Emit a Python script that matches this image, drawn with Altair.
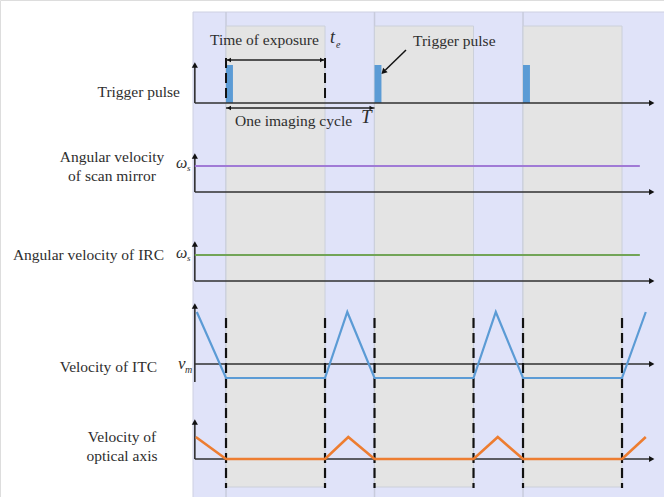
import altair as alt
import pandas as pd

# ---------------- data ----------------
cycle_starts = [0, 3, 6]          # start of each imaging cycle (time units)
t_exposure = 2.0                  # exposure time t_e
T_cycle = 3.0                     # imaging cycle T
pulse_width = 0.14                # trigger pulse duration
dash_times = [0, 2, 3, 5, 6, 8]   # exposure start / end marks

itc_t = [-0.59, 0, 2, 2.45, 3, 5, 5.45, 6, 8, 8.48]
itc_v = [1, 0, 0, 1, 0, 0, 1, 0, 0, 1]
itc_vm = 0.21                     # v_m reference level

opt_t = [-0.61, 0, 2, 2.47, 3, 5, 5.49, 6, 8, 8.48]
opt_v = [1, 0, 0, 1, 0, 0, 1, 0, 0, 1]

scan_level = 1.0                  # omega_s of scan mirror
irc_level = 1.0                   # omega_s of IRC
const_end = 8.36

axis_start, axis_end = -0.63, 8.6

# ---------------- layout (pixels on the y layout scale) ----------------
X = alt.Scale(domain=[-4.566, 8.848], nice=False, zero=False)
Y = alt.Scale(domain=[0, 497], reverse=True, nice=False, zero=False)
FONT = "Liberation Serif"


def xe(f="t"):
    return alt.X(f"{f}:Q", scale=X, axis=None)


def ye(f="y"):
    return alt.Y(f"{f}:Q", scale=Y, axis=None)


layers = []

# background lavender
bg = pd.DataFrame({"t": [-0.667], "t2": [8.95], "y": [12], "y2": [500]})
layers.append(alt.Chart(bg).mark_rect(fill="#e0e3f9", stroke="#cdd0e2", strokeWidth=1).encode(
    x=xe(), x2="t2:Q", y=ye(), y2="y2:Q"))

# column lines
cl = pd.DataFrame({"t": cycle_starts, "y": [12] * 3, "y2": [497] * 3})
layers.append(alt.Chart(cl).mark_rule(color="#c8cbdc", strokeWidth=1.5).encode(
    x=xe(), y=ye(), y2="y2:Q"))

# exposure boxes
gb = pd.DataFrame({"t": cycle_starts, "t2": [c + t_exposure for c in cycle_starts],
                   "y": [26] * 3, "y2": [487] * 3})
layers.append(alt.Chart(gb).mark_rect(fill="#e4e4e4", stroke="#ccd0da", strokeWidth=1).encode(
    x=xe(), x2="t2:Q", y=ye(), y2="y2:Q"))

# trigger pulses
tp = pd.DataFrame({"t": cycle_starts, "t2": [c + pulse_width for c in cycle_starts],
                   "y": [65] * 3, "y2": [103] * 3})
layers.append(alt.Chart(tp).mark_rect(fill="#5b9bd5").encode(
    x=xe(), x2="t2:Q", y=ye(), y2="y2:Q"))

# panel axes: (top of y axis, bottom of y axis, x-axis level)
panels = [(62, 103, 103), (153, 192, 192), (241, 281, 281), (303, 382, 364), (419, 459, 459)]
va = pd.DataFrame({"t": [axis_start] * 5, "y": [p[0] + 3 for p in panels], "y2": [p[1] for p in panels]})
layers.append(alt.Chart(va).mark_rule(color="#303030", strokeWidth=1.6).encode(
    x=xe(), y=ye(), y2="y2:Q"))
ha = pd.DataFrame({"t": [axis_start] * 5, "t2": [axis_end] * 5, "y": [p[2] for p in panels]})
layers.append(alt.Chart(ha).mark_rule(color="#303030", strokeWidth=1.6).encode(
    x=xe(), x2="t2:Q", y=ye()))
up = pd.DataFrame({"t": [axis_start] * 5, "y": [p[0] + 3 for p in panels]})
layers.append(alt.Chart(up).mark_point(shape="triangle-up", filled=True, size=38, color="#111", opacity=1).encode(
    x=xe(), y=ye()))
rt = pd.DataFrame({"t": [axis_end] * 5, "y": [p[2] for p in panels]})
layers.append(alt.Chart(rt).mark_point(shape="triangle-right", filled=True, size=38, color="#111", opacity=1).encode(
    x=xe(), y=ye()))

# constant angular velocities
cst = pd.DataFrame({"t": [axis_start, axis_start], "t2": [const_end, const_end],
                    "y": [192 - 26 * scan_level, 281 - 26 * irc_level], "k": ["scan", "irc"]})
layers.append(alt.Chart(cst).mark_rule(strokeWidth=2).encode(
    x=xe(), x2="t2:Q", y=ye(),
    color=alt.Color("k:N", scale=alt.Scale(domain=["scan", "irc"], range=["#a07ad6", "#72a457"]), legend=None)))

# dashed exposure marks
dl = pd.DataFrame({"t": dash_times, "y": [318] * 6, "y2": [488] * 6})
layers.append(alt.Chart(dl).mark_rule(color="#111", strokeWidth=2.2, strokeDash=[10, 5]).encode(
    x=xe(), y=ye(), y2="y2:Q"))
dt = pd.DataFrame({"t": [0, t_exposure], "y": [58, 58], "y2": [103, 103]})
layers.append(alt.Chart(dt).mark_rule(color="#111", strokeWidth=2, strokeDash=[10, 5]).encode(
    x=xe(), y=ye(), y2="y2:Q"))

# ITC velocity & optical axis velocity
itc = pd.DataFrame({"t": itc_t, "v": itc_v, "i": range(len(itc_t))})
layers.append(alt.Chart(itc).transform_calculate(y="378 - 66*datum.v").mark_line(
    color="#5b9bd5", strokeWidth=2.2).encode(x=xe(), y=ye(), order="i:Q"))
opt = pd.DataFrame({"t": opt_t, "v": opt_v, "i": range(len(opt_t))})
layers.append(alt.Chart(opt).transform_calculate(y="459 - 22*datum.v").mark_line(
    color="#ed7d31", strokeWidth=2.6).encode(x=xe(), y=ye(), order="i:Q"))

# dimension arrows (t_e and T)
dim = pd.DataFrame({"t": [0, 0], "t2": [t_exposure, T_cycle], "y": [60, 108]})
layers.append(alt.Chart(dim).mark_rule(color="#222", strokeWidth=1.3).encode(
    x=xe(), x2="t2:Q", y=ye()))
hl = pd.DataFrame({"t": [0.06, 0.06], "y": [60, 108]})
layers.append(alt.Chart(hl).mark_point(shape="triangle-left", filled=True, size=22, color="#111", opacity=1).encode(
    x=xe(), y=ye()))
hr = pd.DataFrame({"t": [t_exposure - 0.06, T_cycle - 0.06], "y": [60, 108]})
layers.append(alt.Chart(hr).mark_point(shape="triangle-right", filled=True, size=22, color="#111", opacity=1).encode(
    x=xe(), y=ye()))

# annotation arrow to trigger pulse
an = pd.DataFrame({"t": [3.636], "t2": [3.22], "y": [50], "y2": [70]})
layers.append(alt.Chart(an).mark_rule(color="#111", strokeWidth=1.5).encode(
    x=xe(), x2="t2:Q", y=ye(), y2="y2:Q"))
ah = pd.DataFrame({"t": [3.18], "y": [72]})
layers.append(alt.Chart(ah).mark_point(shape="triangle-up", angle=225, filled=True, size=40, color="#111", opacity=1).encode(
    x=xe(), y=ye()))

# ---------------- texts ----------------
one = pd.DataFrame({"a": [0]})
FS = 15.5


def txt(s, x, y, size=FS, align="left", italic=False, color="#2e2e2e"):
    kw = dict(text=s, font=FONT, fontSize=size, align=align, baseline="middle", color=color)
    if italic:
        kw["fontStyle"] = "italic"
    return alt.Chart(one).mark_text(**kw).encode(x=alt.value(x), y=alt.value(y))


layers += [
    txt("Time of exposure", 210, 40),
    txt("t", 330, 38, 18, italic=True),
    txt("e", 336, 45, 10, italic=True),
    txt("One imaging cycle", 235, 121),
    txt("T", 361, 117, 19, italic=True),
    txt("Trigger pulse", 413, 41),
    txt("Trigger pulse", 180, 92, align="right"),
    txt("Angular velocity", 112, 157, align="center"),
    txt("of scan mirror", 112, 176, align="center"),
    txt("ω", 176, 163, 16, italic=True),
    txt("s", 187, 168, 9, italic=True),
    txt("Angular velocity of IRC", 164, 255, align="right"),
    txt("ω", 176, 253, 16, italic=True),
    txt("s", 187, 258, 9, italic=True),
    txt("Velocity of ITC", 157, 367, align="right"),
    txt("v", 178, 364, 17, italic=True),
    txt("m", 185, 370, 10, italic=True),
    txt("Velocity of", 122, 437, align="center"),
    txt("optical axis", 122, 456, align="center"),
]

chart = alt.layer(*layers).properties(
    width=664, height=497, padding=0,
    autosize=alt.AutoSizeParams(type="none"),
).configure_view(stroke=None).configure(background="white")

chart.save("out.html", embed_options={"renderer": "svg", "actions": False})
